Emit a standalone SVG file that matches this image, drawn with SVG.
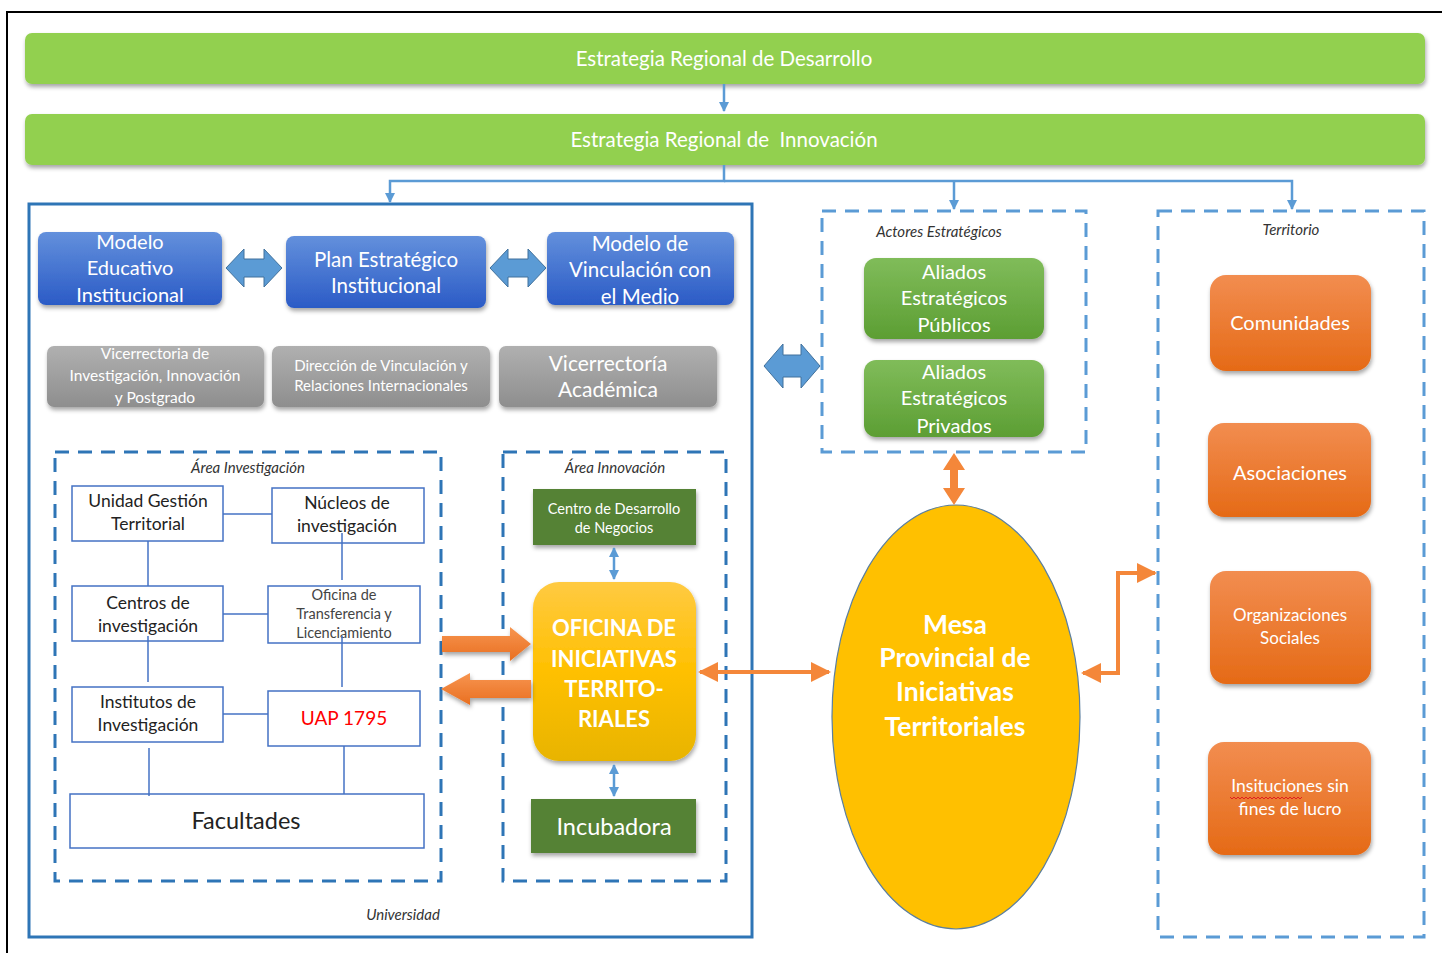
<svg xmlns="http://www.w3.org/2000/svg" width="1442" height="953" viewBox="0 0 1442 953">
<defs>
<linearGradient id="gBlue" x1="0" y1="0" x2="0" y2="1"><stop offset="0" stop-color="#6390DC"/><stop offset="1" stop-color="#2B5BC6"/></linearGradient>
<linearGradient id="gGray" x1="0" y1="0" x2="0" y2="1"><stop offset="0" stop-color="#B0B0B0"/><stop offset="1" stop-color="#8E8E8E"/></linearGradient>
<linearGradient id="gGreen" x1="0" y1="0" x2="0" y2="1"><stop offset="0" stop-color="#80BC5A"/><stop offset="1" stop-color="#5C9E33"/></linearGradient>
<linearGradient id="gOrange" x1="0" y1="0" x2="0" y2="1"><stop offset="0" stop-color="#F28D50"/><stop offset="1" stop-color="#E56A16"/></linearGradient>
<linearGradient id="gGold" x1="0" y1="0" x2="0" y2="1"><stop offset="0" stop-color="#FFCA42"/><stop offset="0.5" stop-color="#FFC000"/><stop offset="1" stop-color="#E8B400"/></linearGradient>
<linearGradient id="gOA" x1="0" y1="0" x2="0" y2="1"><stop offset="0" stop-color="#F79550"/><stop offset="1" stop-color="#E96F20"/></linearGradient>
<filter id="sh" x="-10%" y="-10%" width="120%" height="130%"><feDropShadow dx="1" dy="3" stdDeviation="2" flood-color="#000" flood-opacity="0.35"/></filter>
<marker id="mb" viewBox="0 0 10 10" refX="9" refY="5" markerWidth="4" markerHeight="4" orient="auto-start-reverse"><path d="M0,0 L10,5 L0,10 z" fill="#5B9BD5"/></marker>
<marker id="mo" viewBox="0 0 10 10" refX="9" refY="5" markerWidth="5" markerHeight="5" orient="auto-start-reverse"><path d="M0,0 L10,5 L0,10 z" fill="#F4873A"/></marker>
<style>
text{font-family:Lato,"Open Sans","Noto Sans",sans-serif;text-anchor:middle}
.w{fill:#fff}
.lbl{font-style:italic;font-size:15px;fill:#333}
.dash{fill:none;stroke:#2E75B6;stroke-width:3;stroke-dasharray:14 9}
.dash2{fill:none;stroke:#5B9BD5;stroke-width:3;stroke-dasharray:14 9}
.wb{fill:#fff;stroke:#4472C4;stroke-width:1.5}
.k{fill:#222;font-size:17.5px}
.ln{stroke:#4472C4;stroke-width:1.5;fill:none}
.cb{stroke:#5B9BD5;stroke-width:2.5;fill:none}
.ba{fill:#5B9BD5;stroke:#41719C;stroke-width:1}
</style>
</defs>
<rect width="1442" height="953" fill="#fff"/>
<path d="M7,953 V12 H1442" fill="none" stroke="#000" stroke-width="2"/>

<g id="bar1"><rect x="25" y="33" width="1400" height="51" rx="7" fill="#92D050" filter="url(#sh)"/><text x="724" y="66" class="w" font-size="20.5">Estrategia Regional de Desarrollo</text></g>
<g id="bar2"><rect x="25" y="114" width="1400" height="51" rx="7" fill="#92D050" filter="url(#sh)"/><text x="724" y="147" class="w" font-size="20.5" xml:space="preserve">Estrategia Regional de  Innovación</text></g>

<g id="universidad"><rect x="29" y="204" width="723" height="733" fill="none" stroke="#2E75B6" stroke-width="3"/><text x="403" y="920" class="lbl">Universidad</text></g>

<g id="modelo-educativo"><rect x="38" y="232" width="184" height="73" rx="8" fill="url(#gBlue)" filter="url(#sh)"/><text class="w" font-size="20"><tspan x="130" y="249">Modelo</tspan><tspan x="130" y="275">Educativo</tspan><tspan x="130" y="302">Institucional</tspan></text></g>
<g id="plan-estrategico"><rect x="286" y="236" width="200" height="72" rx="8" fill="url(#gBlue)" filter="url(#sh)"/><text class="w" font-size="20.5"><tspan x="386" y="267">Plan Estratégico</tspan><tspan x="386" y="293">Institucional</tspan></text></g>
<g id="modelo-vinculacion"><rect x="547" y="232" width="187" height="73" rx="8" fill="url(#gBlue)" filter="url(#sh)"/><text class="w" font-size="20.5"><tspan x="640" y="251">Modelo de</tspan><tspan x="640" y="277">Vinculación con</tspan><tspan x="640" y="304">el Medio</tspan></text></g>

<g id="vri"><rect x="47" y="346" width="217" height="61" rx="7" fill="url(#gGray)" filter="url(#sh)"/><text class="w" font-size="15.5"><tspan x="155" y="359">Vicerrectoria de</tspan><tspan x="155" y="381">Investigación, Innovación</tspan><tspan x="155" y="403">y Postgrado</tspan></text></g>
<g id="dvri"><rect x="272" y="346" width="218" height="61" rx="7" fill="url(#gGray)" filter="url(#sh)"/><text class="w" font-size="15"><tspan x="381" y="371">Dirección de Vinculación y</tspan><tspan x="381" y="391">Relaciones Internacionales</tspan></text></g>
<g id="va"><rect x="499" y="346" width="218" height="61" rx="7" fill="url(#gGray)" filter="url(#sh)"/><text class="w" font-size="21"><tspan x="608" y="371">Vicerrectoría</tspan><tspan x="608" y="397">Académica</tspan></text></g>

<g id="area-investigacion"><rect x="55" y="452" width="386" height="429" class="dash"/><text x="248" y="473" class="lbl">Área Investigación</text></g>
<g id="ugt"><rect x="72" y="486" width="151" height="55" class="wb"/><text class="k"><tspan x="148" y="507">Unidad Gestión</tspan><tspan x="148" y="530">Territorial</tspan></text></g>
<g id="nucleos"><rect x="272" y="488" width="152" height="55" class="wb"/><text class="k"><tspan x="347" y="509">Núcleos de</tspan><tspan x="347" y="532">investigación</tspan></text></g>
<g id="centros"><rect x="72" y="586" width="151" height="55" class="wb"/><text class="k"><tspan x="148" y="609">Centros de</tspan><tspan x="148" y="632">investigación</tspan></text></g>
<g id="otl"><rect x="268" y="586" width="152" height="57" class="wb"/><text fill="#444" font-size="14.5"><tspan x="344" y="600">Oficina de</tspan><tspan x="344" y="619">Transferencia y</tspan><tspan x="344" y="638">Licenciamiento</tspan></text></g>
<g id="institutos"><rect x="72" y="687" width="151" height="55" class="wb"/><text class="k"><tspan x="148" y="708">Institutos de</tspan><tspan x="148" y="731">Investigación</tspan></text></g>
<g id="uap"><rect x="268" y="691" width="152" height="55" class="wb"/><text x="344" y="725" fill="#FF0000" font-size="19">UAP 1795</text></g>
<g id="facultades"><rect x="70" y="794" width="354" height="54" class="wb"/><text x="246" y="829" fill="#222" font-size="23.5">Facultades</text></g>

<g id="area-innovacion"><rect x="503" y="452" width="223" height="429" class="dash"/><text x="615" y="473" class="lbl">Área Innovación</text></g>
<g id="cdn"><rect x="533" y="489" width="163" height="56" fill="#548235" filter="url(#sh)"/><text class="w" font-size="14.5"><tspan x="614" y="514">Centro de Desarrollo</tspan><tspan x="614" y="533">de Negocios</tspan></text></g>
<g id="oficina"><rect x="533" y="582" width="163" height="179" rx="26" fill="url(#gGold)" filter="url(#sh)"/><text class="w" font-size="22" font-weight="bold"><tspan x="614" y="636">OFICINA DE</tspan><tspan x="614" y="667">INICIATIVAS</tspan><tspan x="614" y="697">TERRITO-</tspan><tspan x="614" y="727">RIALES</tspan></text></g>
<g id="incubadora"><rect x="531" y="799" width="165" height="54" fill="#548235" filter="url(#sh)"/><text x="614" y="835" class="w" font-size="23.5">Incubadora</text></g>

<g id="actores"><rect x="822" y="211" width="264" height="241" class="dash2"/><text x="939" y="237" class="lbl">Actores Estratégicos</text></g>
<g id="aliados-publicos"><rect x="864" y="258" width="180" height="81" rx="12" fill="url(#gGreen)" filter="url(#sh)"/><text class="w" font-size="20"><tspan x="954" y="279">Aliados</tspan><tspan x="954" y="305">Estratégicos</tspan><tspan x="954" y="332">Públicos</tspan></text></g>
<g id="aliados-privados"><rect x="864" y="360" width="180" height="77" rx="12" fill="url(#gGreen)" filter="url(#sh)"/><text class="w" font-size="20"><tspan x="954" y="379">Aliados</tspan><tspan x="954" y="405">Estratégicos</tspan><tspan x="954" y="433">Privados</tspan></text></g>

<g id="mesa"><ellipse cx="956" cy="717" rx="124" ry="212" fill="#FFC000" stroke="#5B7FA0" stroke-width="1.2"/><text class="w" font-size="26.5" font-weight="bold"><tspan x="955" y="634">Mesa</tspan><tspan x="955" y="667">Provincial de</tspan><tspan x="955" y="701">Iniciativas</tspan><tspan x="955" y="736">Territoriales</tspan></text></g>

<g id="territorio"><rect x="1158" y="211" width="266" height="726" class="dash2"/><text x="1291" y="235" class="lbl">Territorio</text></g>
<g id="comunidades"><rect x="1210" y="275" width="161" height="96" rx="16" fill="url(#gOrange)" filter="url(#sh)"/><text x="1290" y="330" class="w" font-size="20">Comunidades</text></g>
<g id="asociaciones"><rect x="1208" y="423" width="163" height="94" rx="16" fill="url(#gOrange)" filter="url(#sh)"/><text x="1290" y="480" class="w" font-size="20">Asociaciones</text></g>
<g id="organizaciones"><rect x="1210" y="571" width="161" height="113" rx="16" fill="url(#gOrange)" filter="url(#sh)"/><text class="w" font-size="17"><tspan x="1290" y="621">Organizaciones</tspan><tspan x="1290" y="644">Sociales</tspan></text></g>
<g id="instituciones"><rect x="1208" y="742" width="163" height="113" rx="16" fill="url(#gOrange)" filter="url(#sh)"/><text class="w" font-size="17.5"><tspan x="1290" y="792">Insituciones sin</tspan><tspan x="1290" y="815">fines de lucro</tspan></text><path d="M1230,797 l2,2 l2,-2 l2,2 l2,-2 l2,2 l2,-2 l2,2 l2,-2 l2,2 l2,-2 l2,2 l2,-2 l2,2 l2,-2 l2,2 l2,-2 l2,2 l2,-2 l2,2 l2,-2 l2,2 l2,-2 l2,2 l2,-2 l2,2 l2,-2 l2,2 l2,-2 l2,2 l2,-2 l2,2 l2,-2 l2,2 l2,-2 l2,2 l2,-2" fill="none" stroke="#E02020" stroke-width="1"/></g>

<g id="connectors">
<line x1="724" y1="84" x2="724" y2="111" class="cb" marker-end="url(#mb)"/>
<polyline points="724,165 724,181 390,181 390,202" class="cb" marker-end="url(#mb)"/>
<polyline points="724,181 1292,181 1292,209" class="cb" marker-end="url(#mb)"/>
<line x1="954" y1="181" x2="954" y2="209" class="cb" marker-end="url(#mb)"/>
<polygon class="ba" points="226,268 244,249 244,259 264,259 264,249 282,268 264,287 264,277 244,277 244,287"/>
<polygon class="ba" points="490,268 508,249 508,259 528,259 528,249 546,268 528,287 528,277 508,277 508,287"/>
<polygon class="ba" points="764,366 783,344 783,355 801,355 801,344 820,366 801,388 801,377 783,377 783,388"/>
<line x1="223" y1="514" x2="272" y2="514" class="ln"/>
<line x1="148" y1="541" x2="148" y2="586" class="ln"/>
<line x1="342" y1="533" x2="342" y2="580" class="ln"/>
<line x1="223" y1="614" x2="268" y2="614" class="ln"/>
<line x1="148" y1="636" x2="148" y2="682" class="ln"/>
<line x1="342" y1="636" x2="342" y2="687" class="ln"/>
<line x1="223" y1="714" x2="268" y2="714" class="ln"/>
<line x1="149" y1="748" x2="149" y2="796" class="ln"/>
<line x1="344" y1="746" x2="344" y2="794" class="ln"/>
<line x1="614" y1="548" x2="614" y2="579" class="cb" marker-start="url(#mb)" marker-end="url(#mb)"/>
<line x1="614" y1="765" x2="614" y2="796" class="cb" marker-start="url(#mb)" marker-end="url(#mb)"/>
<polygon fill="url(#gOA)" points="442,636 510,636 510,627 531,644 510,661 510,652 442,652" filter="url(#sh)"/>
<polygon fill="url(#gOA)" points="531,680 470,680 470,673 441,689 470,705 470,698 531,698" filter="url(#sh)"/>
<line x1="700" y1="672" x2="829" y2="672" stroke="#F4873A" stroke-width="4" marker-start="url(#mo)" marker-end="url(#mo)"/>
<polygon fill="#F4873A" points="954,453 943,470 950,470 950,488 943,488 954,505 965,488 958,488 958,470 965,470"/>
<polyline points="1083,673 1118,673 1118,573 1155,573" fill="none" stroke="#F4873A" stroke-width="4" marker-start="url(#mo)" marker-end="url(#mo)"/>
</g>
</svg>
